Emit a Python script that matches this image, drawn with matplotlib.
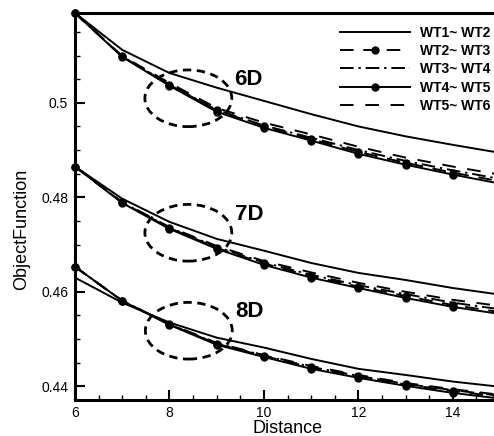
import matplotlib
matplotlib.use("Agg")
import matplotlib.pyplot as plt
from matplotlib.patches import Ellipse
from matplotlib.ticker import MultipleLocator, FixedLocator

plt.rcParams['font.family'] = ['Liberation Sans', 'DejaVu Sans']

# ---- data ----
distance = [6, 7, 8, 9, 10, 11, 12, 13, 14, 15]

wt12_6d = [0.5190, 0.5112, 0.5063, 0.5032, 0.5004, 0.4976, 0.4950, 0.4929, 0.4911, 0.4894]
wt23_6d = [0.5190, 0.5098, 0.5038, 0.4984, 0.4950, 0.4923, 0.4896, 0.4873, 0.4852, 0.4834]
wt34_6d = [0.5190, 0.5098, 0.5039, 0.4985, 0.4952, 0.4926, 0.4900, 0.4877, 0.4857, 0.4839]
wt45_6d = [0.5190, 0.5097, 0.5036, 0.4981, 0.4947, 0.4920, 0.4892, 0.4869, 0.4848, 0.4829]
wt56_6d = [0.5190, 0.5099, 0.5042, 0.4989, 0.4958, 0.4933, 0.4907, 0.4884, 0.4865, 0.4848]

wt12_7d = [0.4865, 0.4797, 0.4748, 0.4712, 0.4687, 0.4661, 0.4640, 0.4625, 0.4608, 0.4594]
wt23_7d = [0.4865, 0.4789, 0.4735, 0.4693, 0.4660, 0.4633, 0.4611, 0.4591, 0.4572, 0.4557]
wt34_7d = [0.4865, 0.4789, 0.4736, 0.4695, 0.4662, 0.4636, 0.4614, 0.4595, 0.4577, 0.4563]
wt45_7d = [0.4865, 0.4788, 0.4733, 0.4691, 0.4657, 0.4630, 0.4608, 0.4587, 0.4568, 0.4553]
wt56_7d = [0.4865, 0.4790, 0.4737, 0.4697, 0.4665, 0.4641, 0.4619, 0.4600, 0.4583, 0.4570]

wt12_8d = [0.4630, 0.4577, 0.4535, 0.4503, 0.4482, 0.4458, 0.4437, 0.4424, 0.4410, 0.4399]
wt23_8d = [0.4653, 0.4581, 0.4531, 0.4490, 0.4464, 0.4440, 0.4421, 0.4404, 0.4390, 0.4378]
wt34_8d = [0.4653, 0.4581, 0.4531, 0.4491, 0.4465, 0.4441, 0.4422, 0.4405, 0.4392, 0.4380]
wt45_8d = [0.4653, 0.4581, 0.4530, 0.4488, 0.4462, 0.4437, 0.4418, 0.4401, 0.4386, 0.4374]
wt56_8d = [0.4653, 0.4581, 0.4532, 0.4492, 0.4466, 0.4443, 0.4424, 0.4407, 0.4394, 0.4382]

series_labels = ['WT1~ WT2', 'WT2~ WT3', 'WT3~ WT4', 'WT4~ WT5', 'WT5~ WT6']
group_labels = ['6D', '7D', '8D']
group_centers_x = [8.40, 8.40, 8.41]
group_centers_y = [0.50095, 0.47249, 0.45176]
label_x = [9.68, 9.70, 9.70]
label_y = [0.5049, 0.4763, 0.4558]

x_ticks = [6, 8, 10, 12, 14]
y_ticks = [0.44, 0.46, 0.48, 0.5]
y_ticklabels = ['0.44', '0.46', '0.48', '0.5']

groups = [
    [wt12_6d, wt23_6d, wt34_6d, wt45_6d, wt56_6d],
    [wt12_7d, wt23_7d, wt34_7d, wt45_7d, wt56_7d],
    [wt12_8d, wt23_8d, wt34_8d, wt45_8d, wt56_8d],
]

# ---- figure ----
W, H = 494, 436
fig = plt.figure(figsize=(W / 100, H / 100), dpi=100)
ax_left, ax_right, ax_top, ax_bottom = 75, 500, 13, 400
ax = fig.add_axes([ax_left / W, (H - ax_bottom) / H,
                   (ax_right - ax_left) / W, (ax_bottom - ax_top) / H])

lw = 1.4
styles = [
    dict(color='black', lw=lw, linestyle='-'),
    dict(color='black', lw=lw, linestyle=(0, (7, 5)), marker='o', markersize=5),
    dict(color='black', lw=lw, linestyle=(0, (7, 2.5, 1.2, 2.5))),
    dict(color='black', lw=lw, linestyle='-', marker='o', markersize=5),
    dict(color='black', lw=lw, linestyle=(0, (7, 6))),
]

for gi, grp in enumerate(groups):
    for si, ys in enumerate(grp):
        kw = dict(styles[si])
        ax.plot(distance, ys, label=series_labels[si] if gi == 0 else None,
                clip_on=False, zorder=3, **kw)

for gi in range(3):
    e = Ellipse((group_centers_x[gi], group_centers_y[gi]), width=1.84, height=0.0120,
                fill=False, edgecolor='black', lw=2.0, linestyle=(0, (3, 2)), zorder=4)
    ax.add_patch(e)
    ax.text(label_x[gi], label_y[gi], group_labels[gi], fontsize=16, fontweight='bold',
            ha='center', va='center', zorder=5)

ax.set_xlim(6, 15)
ax.set_ylim(0.4371, 0.5190)
ax.xaxis.set_major_locator(FixedLocator(x_ticks))
ax.xaxis.set_minor_locator(MultipleLocator(0.5))
ax.yaxis.set_major_locator(FixedLocator(y_ticks))
ax.set_yticklabels(y_ticklabels)
ax.yaxis.set_minor_locator(MultipleLocator(0.005))

ax.tick_params(axis='both', which='major', direction='in', length=7, width=1.5,
               labelsize=10, pad=5)
ax.tick_params(axis='both', which='minor', direction='in', length=3.5, width=1.0)
ax.tick_params(axis='x', which='major', pad=4)

for side in ['left', 'bottom', 'top']:
    ax.spines[side].set_linewidth(2.2)
ax.spines['right'].set_visible(False)

ax.set_xlabel('Distance', fontsize=13, labelpad=0)
ax.set_ylabel('ObjectFunction', fontsize=13)
ax.yaxis.set_label_coords(-0.105, 0.44)

leg = fig.legend(loc='upper right', bbox_to_anchor=(490 / W, (H - 26) / H),
                 frameon=False, handlelength=5.0, handletextpad=0.7,
                 labelspacing=0.3, borderpad=0, borderaxespad=0,
                 numpoints=1, prop={'weight': 'bold', 'size': 10})

fig.savefig('out.png', dpi=100)
